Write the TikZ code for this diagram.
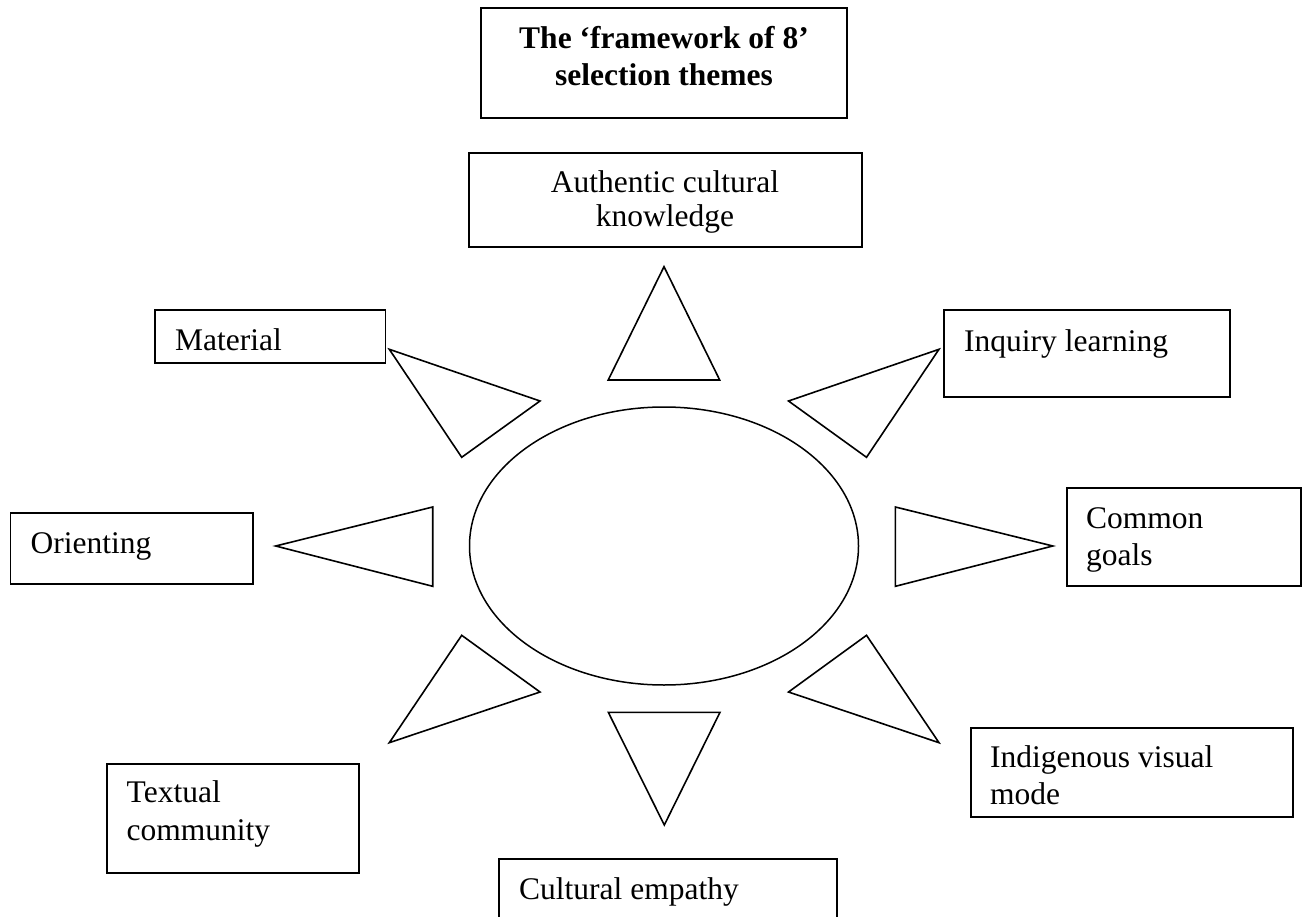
\documentclass[tikz,border=0pt]{standalone}
\usepackage{fontspec}
\setmainfont{Liberation Serif}
\usetikzlibrary{shapes.geometric}
\begin{document}
\begin{tikzpicture}[x=1pt,y=-1pt,
  themebox/.style={draw, line width=1.8pt, rectangle, inner sep=0pt, outer sep=0pt, anchor=north west},
  ray/.style={draw, line width=1.6pt, line join=miter},
  lbl/.style={inner sep=0pt, anchor=base west, font=\fontsize{31.5}{36}\selectfont},
  clbl/.style={inner sep=0pt, anchor=base, font=\fontsize{31.5}{36}\selectfont},
  ttl/.style={inner sep=0pt, anchor=base, font=\fontsize{31.5}{38}\selectfont\bfseries}]
\clip (0,0) rectangle (1306,917);
\fill[white] (0,0) rectangle (1306,917);

% heading
\node[themebox, minimum width=366.7pt, minimum height=110pt] (title) at (480.6,8.3) {};
\node[ttl] (title1) at (664,48.3) {The ‘framework of 8’};
\node[ttl] (title2) at (664,86) {selection themes};

% central hub
\node[draw, ellipse, line width=1.5pt, minimum width=389pt, minimum height=278pt, inner sep=0pt] (hub) at (664,546) {};

% the eight theme boxes
\node[themebox, minimum width=393pt, minimum height=94pt] (auth) at (469,153) {};
\node[clbl] (auth1) at (665,192.7) {Authentic cultural};
\node[clbl] (auth2) at (665,227) {knowledge};

\node[themebox, minimum width=230.5pt, minimum height=53pt] (mat) at (155,310) {};
\node[lbl] (mat1) at (175,350) {Material};

\node[themebox, minimum width=286pt, minimum height=86.7pt] (inq) at (944,310) {};
\node[lbl] (inq1) at (964,351) {Inquiry learning};

\node[themebox, minimum width=242.5pt, minimum height=71.3pt] (ori) at (10.5,512.7) {};
\node[lbl] (ori1) at (30.5,553) {Orienting};

\node[themebox, minimum width=234pt, minimum height=98pt] (goal) at (1066.9,488) {};
\node[lbl] (goal1) at (1086,528) {Common};
\node[lbl] (goal2) at (1086,565.3) {goals};

\node[themebox, minimum width=252pt, minimum height=109pt] (text) at (107,763.7) {};
\node[lbl] (text1) at (126.5,802) {Textual};
\node[lbl] (text2) at (126.5,840.3) {community};

\node[themebox, minimum width=322.3pt, minimum height=89pt] (ivm) at (971,728) {};
\node[lbl] (ivm1) at (990,767.7) {Indigenous visual};
\node[lbl] (ivm2) at (990,804.3) {mode};

\node[themebox, minimum width=337.7pt, minimum height=100pt] (emp) at (499,859) {};
\node[lbl] (emp1) at (519,899.3) {Cultural empathy};

% rays around the hub
\path[ray] (664,266.7) -- (719.7,380) -- (608.2,380) -- cycle;
\path[ray] (389.3,349.3) -- (540,401) -- (461.7,457.3) -- cycle;
\path[ray] (939,349.3) -- (788.5,401) -- (866.5,457.3) -- cycle;
\path[ray] (275.7,546) -- (432.7,507) -- (432.7,586.3) -- cycle;
\path[ray] (1052.8,546) -- (895.4,507) -- (895.4,586.3) -- cycle;
\path[ray] (461.7,635.3) -- (540,692) -- (389.3,742.7) -- cycle;
\path[ray] (866.5,635.3) -- (788.5,692) -- (939,742.7) -- cycle;
\path[ray] (608.3,712.3) -- (720,712.3) -- (664.3,825) -- cycle;
\end{tikzpicture}
\end{document}
